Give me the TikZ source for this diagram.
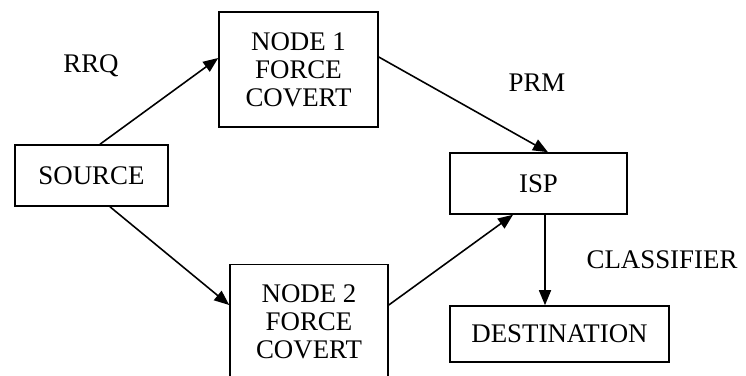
\documentclass[tikz,border=0pt]{standalone}
\usepackage{fontspec}
\setmainfont{Liberation Serif}
\usetikzlibrary{arrows.meta}
\tikzset{
  boite/.style={draw, line width=0.9pt, align=center, inner sep=0pt},
  fleche/.style={line width=0.9pt, -{Triangle[length=0.3cm,width=0.24cm]}}
}
\begin{document}
\begin{tikzpicture}[x=0.02cm, y=-0.02cm, font=\fontsize{15.3}{16}\selectfont]
\useasboundingbox (0,0) rectangle (746,375);
\clip (0,0) rectangle (746,375);
%les cinq boites
\node[boite, minimum width=3.06cm, minimum height=1.22cm] (source) at (91.5,175.5) {SOURCE};
\node[boite, minimum width=3.18cm, minimum height=2.3cm] (node1) at (298.5,69.5) {NODE 1\\FORCE\\COVERT};
\node[boite, minimum width=3.16cm, minimum height=2.3cm] (node2) at (309,322) {NODE 2\\FORCE\\COVERT};
\node[boite, minimum width=3.54cm, minimum height=1.22cm] (isp) at (538.5,183.5) {ISP};
\node[boite, minimum width=4.38cm, minimum height=1.12cm] (dest) at (559.5,334) {DESTINATION};
%les fleches
\draw[fleche] ([xshift=0.17cm]source.north) -- ([yshift=0.23cm]node1.west);
\draw[fleche] ([yshift=0.25cm]node1.east) -- ([xshift=0.19cm]isp.north);
\draw[fleche] ([xshift=0.37cm]source.south) -- ([yshift=0.34cm]node2.west);
\draw[fleche] ([yshift=0.34cm]node2.east) -- ([xshift=-0.51cm]isp.south);
\draw[fleche] ([xshift=0.13cm]isp.south) -- ([xshift=0.13cm]isp.south |- dest.north);
%les messages
\node (rrq) at (91,66) {RRQ};
\node (prm) at (537,83) {PRM};
\node (classifier) at (662,260) {CLASSIFIER};
\end{tikzpicture}
\end{document}
